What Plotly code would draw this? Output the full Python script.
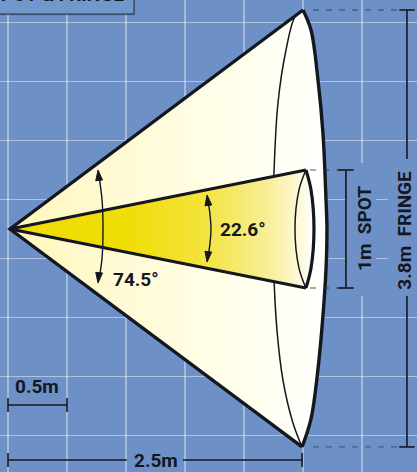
import plotly.graph_objects as go

# All geometry is in metres: x = distance from the lamp, y = offset from the beam axis.
apex = [0.017, 0.0]

fringe_edge_x = [2.5, 2.568, 2.627, 2.669, 2.695, 2.703, 2.695, 2.669, 2.627, 2.568, 2.492]
fringe_edge_y = [1.856, 1.686, 1.263, 0.814, 0.246, 0.0, -0.339, -0.737, -1.186, -1.610, -1.847]
fringe_back_x = [2.5, 2.432, 2.356, 2.288, 2.254, 2.246, 2.254, 2.280, 2.331, 2.415, 2.492]
fringe_back_y = [1.856, 1.797, 1.517, 1.068, 0.475, 0.0, -0.414, -0.863, -1.286, -1.644, -1.847]

spot_edge_x = [2.525, 2.568, 2.593, 2.568, 2.525]
spot_edge_y = [0.5, 0.331, 0.0, -0.331, -0.5]
spot_back_x = [2.525, 2.466, 2.432, 2.466, 2.525]
spot_back_y = [0.5, 0.331, 0.0, -0.331, -0.5]

wide_arc_x = [0.771, 0.797, 0.805, 0.797, 0.771]
wide_arc_y = [0.449, 0.246, 0.0, -0.246, -0.432]
wide_tip_x = [0.763, 0.763]
wide_tip_y = [0.50, -0.458]
narrow_arc_x = [1.695, 1.712, 1.720, 1.712, 1.695]
narrow_arc_y = [0.246, 0.120, 0.0, -0.120, -0.237]
narrow_tip_x = [1.687, 1.687]
narrow_tip_y = [0.288, -0.280]

labels = ["SPOT & FRINGE", "74.5°", "22.6°", "0.5m", "2.5m", "1m\u00a0\u00a0SPOT", "3.8m\u00a0\u00a0FRINGE"]
label_x = [0.415, 1.085, 1.995, 0.246, 1.250, 3.017, 3.362]
label_y = [1.873, -0.432, 0.0, -1.331, -1.958, 0.0, -0.008]

PX = 118.0
BG = "#6d91c6"
INK = "#14171f"
fig = go.Figure()


def line(x, y, width=1.5, color=INK, dash=None, shape="linear", markers=False):
    fig.add_trace(go.Scatter(
        x=x, y=y, mode="lines+markers" if markers else "lines",
        line=dict(color=color, width=width, dash=dash, shape=shape, simplify=False),
        marker=dict(symbol="line-ns", size=10, line=dict(color=color, width=1.6)),
        hoverinfo="skip", showlegend=False))


def filled(x, y, stops):
    fig.add_trace(go.Scatter(
        x=x, y=y, mode="lines", fill="toself", line=dict(width=0),
        fillgradient=dict(type="horizontal", colorscale=stops),
        hoverinfo="skip", showlegend=False))


# title plate
fig.add_trace(go.Scatter(x=[-0.2, 1.075, 1.075, -0.2], y=[2.0, 2.0, 1.812, 1.812],
                         mode="lines", fill="toself", fillcolor="rgba(30,40,60,0.35)",
                         line=dict(width=0), hoverinfo="skip", showlegend=False))
fig.add_trace(go.Scatter(x=[-0.2, 1.068, 1.068, -0.2], y=[2.0, 2.0, 1.822, 1.822],
                         mode="lines", fill="toself", fillcolor="#7198cc",
                         line=dict(width=1, color="#2b3442"), hoverinfo="skip", showlegend=False))

# fringe cone
filled(apex[:1] + fringe_edge_x, apex[1:] + fringe_edge_y,
       [[0, "#fff7bd"], [0.3, "#fffad2"], [0.75, "#ffffee"], [1, "#ffffff"]])
line(fringe_back_x, fringe_back_y, width=1.5, shape="spline")
line([fringe_edge_x[0], apex[0], fringe_edge_x[-1]], [fringe_edge_y[0], apex[1], fringe_edge_y[-1]], width=3.4)
line(fringe_edge_x, fringe_edge_y, width=3.4, shape="spline")

# spot cone
filled(apex[:1] + spot_edge_x, apex[1:] + spot_edge_y,
       [[0, "#efdc00"], [0.38, "#f0dd06"], [0.62, "#f4e338"], [0.85, "#f8ee98"], [1, "#fffff4"]])
filled(spot_back_x + spot_edge_x[::-1], spot_back_y + spot_edge_y[::-1],
       [[0, "#fdf8cc"], [1, "#ffffff"]])
line(spot_back_x, spot_back_y, width=1.5, shape="spline")
line([spot_edge_x[0], apex[0], spot_edge_x[-1]], [spot_edge_y[0], apex[1], spot_edge_y[-1]], width=3.2)
line(spot_edge_x, spot_edge_y, width=3.2, shape="spline")

# angle arcs
line(wide_arc_x, wide_arc_y, width=1.4, shape="spline")
line(narrow_arc_x, narrow_arc_y, width=1.4, shape="spline")
for xs, ys, lean in [(wide_tip_x, wide_tip_y, 6), (narrow_tip_x, narrow_tip_y, 7)]:
    fig.add_trace(go.Scatter(
        x=xs, y=ys, mode="markers",
        marker=dict(symbol="arrow", size=11, angle=[-lean, 180 + lean], color=INK,
                    line=dict(color=INK, width=1)),
        hoverinfo="skip", showlegend=False))

# dashed leaders
dash_col = "rgba(40,50,70,0.55)"
line([2.585, 3.34], [1.856, 1.856], width=1.3, color=dash_col, dash="6px,7px")
line([2.585, 3.34], [-1.847, -1.847], width=1.3, color=dash_col, dash="6px,7px")
line([2.56, 2.82], [0.5, 0.5], width=1.3, color=dash_col, dash="6px,7px")
line([2.56, 2.82], [-0.5, -0.5], width=1.3, color=dash_col, dash="6px,7px")

# dimension bars
line([3.381, 3.381], [1.856, 0.593], markers=False, width=1.6)
line([3.381, 3.381], [-0.568, -1.847], markers=False, width=1.6)
fig.add_trace(go.Scatter(x=[3.381, 3.381, 2.864, 2.864], y=[1.856, -1.847, 0.5, -0.5], mode="markers",
                         marker=dict(symbol="line-ew", size=11, line=dict(color=INK, width=1.6)),
                         hoverinfo="skip", showlegend=False))
line([2.864, 2.864], [0.5, -0.5], width=1.6)
line([0, 0.5], [-1.492, -1.492], markers=True, width=1.6)
line([0, 1.008], [-1.958, -1.958], width=1.6)
line([1.483, 2.492], [-1.958, -1.958], width=1.6)
fig.add_trace(go.Scatter(x=[0, 2.492], y=[-1.958, -1.958], mode="markers",
                         marker=dict(symbol="line-ns", size=10, line=dict(color=INK, width=1.6)),
                         hoverinfo="skip", showlegend=False))

for i, (text, x, y) in enumerate(zip(labels, label_x, label_y)):
    rotated = "SPOT" in text and "FRINGE" not in text or "3.8m" in text
    fig.add_annotation(x=x, y=y, text=text, showarrow=False, textangle=-90 if rotated else 0,
                       xanchor="center", yanchor="bottom" if i == 0 else "middle",
                       font=dict(family="Roboto", size=19, color=INK, weight=700))

# gridline gaps behind the dimension labels
for x0, x1 in [(346, 376), (388, 420)]:
    fig.add_shape(type="rect", layer="between", line_width=0, fillcolor=BG,
                  x0=(x0 - 8) / PX, x1=(x1 - 8) / PX, y0=(229 - 163) / PX, y1=(229 - 296) / PX)

fig.update_layout(
    width=417, height=472, margin=dict(l=0, r=0, t=0, b=0),
    paper_bgcolor=BG, plot_bgcolor=BG, showlegend=False,
    xaxis=dict(range=[-8 / PX, 409 / PX], tick0=0, dtick=0.5, showticklabels=False, ticks="",
               showgrid=True, gridcolor="rgba(255,255,255,0.38)", gridwidth=2, zeroline=False,
               showline=False, fixedrange=True),
    yaxis=dict(range=[-243 / PX, 229 / PX], tick0=0.25, dtick=0.5, showticklabels=False, ticks="",
               showgrid=True, gridcolor="rgba(255,255,255,0.45)", gridwidth=1, zeroline=False,
               showline=False, fixedrange=True),
)
fig.write_html("out.html", config=dict(displayModeBar=False, responsive=False),
               post_script="document.body.style.margin='0';document.documentElement.style.overflow='hidden';")
